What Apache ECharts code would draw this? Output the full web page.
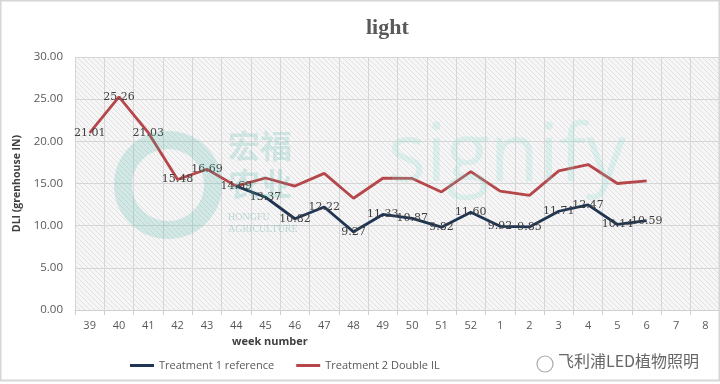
<!DOCTYPE html>
<html><head><meta charset="utf-8">
<script src="https://cdn.jsdelivr.net/npm/echarts@6/dist/echarts.min.js"></script>
<style>html,body{margin:0;padding:0;background:#fff}#c{width:720px;height:384px}</style>
</head><body><div id="c"></div>
<script>
const weeks = ['39','40','41','42','43','44','45','46','47','48','49','50','51','52','1','2','3','4','5','6','7','8'];
const treatment1 = [null,null,null,null,null,14.69,13.37,10.82,12.22,9.27,11.33,10.87,9.82,11.60,9.92,9.85,11.71,12.47,10.14,10.59,null,null];
const treatment2 = [21.01,25.26,21.03,15.48,16.69,14.69,15.65,14.70,16.20,13.25,15.62,15.60,14.00,16.40,14.10,13.60,16.50,17.25,15.00,15.30,null,null];
const treatment2LabelCount = 5;
const yTicks = {min:0, max:30, interval:5};

const pc = document.createElement('canvas');
pc.width = 5; pc.height = 5;
const g = pc.getContext('2d');
g.fillStyle = '#f7f6f7'; g.fillRect(0,0,5,5);
g.strokeStyle = '#e3e0e3'; g.lineWidth = 1;
g.beginPath(); g.moveTo(-1,-1); g.lineTo(6,6); g.moveTo(-1,4); g.lineTo(1,6); g.moveTo(4,-1); g.lineTo(6,1); g.stroke();

const chart = echarts.init(document.getElementById('c'));
const labelFont = {fontFamily:'DejaVu Serif', fontSize:11, color:'#404040'};
chart.setOption({
  backgroundColor:'#fff',
  animation:false,
  title:{text:'light', left:361, top:12, textStyle:{fontFamily:'Liberation Serif', fontSize:22, fontWeight:'bold', color:'#595959'}},
  legend:{left:125, top:355, itemWidth:24, itemHeight:3, itemGap:22, icon:'rect',
    textStyle:{fontFamily:'Open Sans', fontSize:11, color:'#595959'},
    data:['Treatment 1 reference','Treatment 2 Double IL']},
  grid:{left:75, right:0, top:57, bottom:74, show:true, borderWidth:0, backgroundColor:{image:pc, repeat:'repeat'}},
  graphic:[
    {type:'rect', shape:{x:0.5,y:0.5,width:719,height:380}, style:{fill:'none', stroke:'#d6d6d6', lineWidth:2}, silent:true, z:100},
    {type:'text', left:232, top:336, style:{text:'week number', font:'bold 11px "Open Sans"', fill:'#404040'}},
    {type:'text', left:388, top:118, style:{text:'signify', font:'80px "Open Sans"', fill:'rgba(120,220,200,0.2)'}, z:50, silent:true},
    {type:'circle', shape:{cx:168, cy:185, r:45}, style:{fill:'none', stroke:'rgba(60,180,160,0.2)', lineWidth:18}, z:50, silent:true},
    {type:'text', left:228, top:130, style:{text:'宏福', font:'bold 32px "Noto Sans CJK SC"', fill:'rgba(60,180,160,0.2)'}, z:50, silent:true},
    {type:'text', left:228, top:168, style:{text:'农业', font:'bold 32px "Noto Sans CJK SC"', fill:'rgba(60,180,160,0.2)'}, z:50, silent:true},
    {type:'text', left:228, top:212, style:{text:'HONGFU', font:'10px "Liberation Serif"', fill:'rgba(60,160,140,0.3)'}, z:50, silent:true},
    {type:'text', left:228, top:224, style:{text:'AGRICULTURE', font:'10px "Liberation Serif"', fill:'rgba(60,160,140,0.3)'}, z:50, silent:true},
    {type:'circle', shape:{cx:545, cy:364, r:8}, style:{fill:'none', stroke:'#aaa', lineWidth:1.2}, z:50},
    {type:'text', left:558, top:353, style:{text:'飞利浦LED植物照明', font:'16px "Noto Sans CJK SC"', fill:'#666'}, z:50}
  ],
  xAxis:{type:'category', data:weeks, boundaryGap:true,
    axisLine:{show:true, lineStyle:{color:'#d0d0d0'}},
    axisTick:{show:true, length:5, lineStyle:{color:'#d0d0d0'}},
    axisLabel:{fontFamily:'Open Sans', fontSize:11, color:'#595959', margin:10},
    splitLine:{show:true, lineStyle:{color:'#d6d6d6'}}},
  yAxis:{type:'value', min:yTicks.min, max:yTicks.max, interval:yTicks.interval,
    name:'DLI (grenhouse IN)', nameLocation:'middle', nameGap:46,
    nameTextStyle:{fontFamily:'Open Sans', fontSize:10.5, fontWeight:'bold', color:'#404040'},
    axisLine:{show:false}, axisTick:{show:false},
    axisLabel:{fontFamily:'Open Sans', fontSize:11.5, color:'#595959', formatter:v=>v.toFixed(2), margin:12},
    splitLine:{lineStyle:{color:'#d6d6d6'}}},
  series:[
    {name:'Treatment 1 reference', type:'line', data:treatment1, z:3,
      symbol:'circle', symbolSize:0.1, color:'#1f3552',
      lineStyle:{width:2.8, color:'#1f3552'},
      label:{show:true, position:'inside', ...labelFont, formatter:p=>p.value==null?'':p.value.toFixed(2)}},
    {name:'Treatment 2 Double IL', type:'line', data:treatment2, z:2,
      symbol:'circle', symbolSize:0.1, color:'#b5474b',
      lineStyle:{width:2.8, color:'#b5474b'},
      label:{show:true, position:'inside', ...labelFont, formatter:p=>p.dataIndex<treatment2LabelCount?p.value.toFixed(2):''}}
  ]
});
</script></body></html>
